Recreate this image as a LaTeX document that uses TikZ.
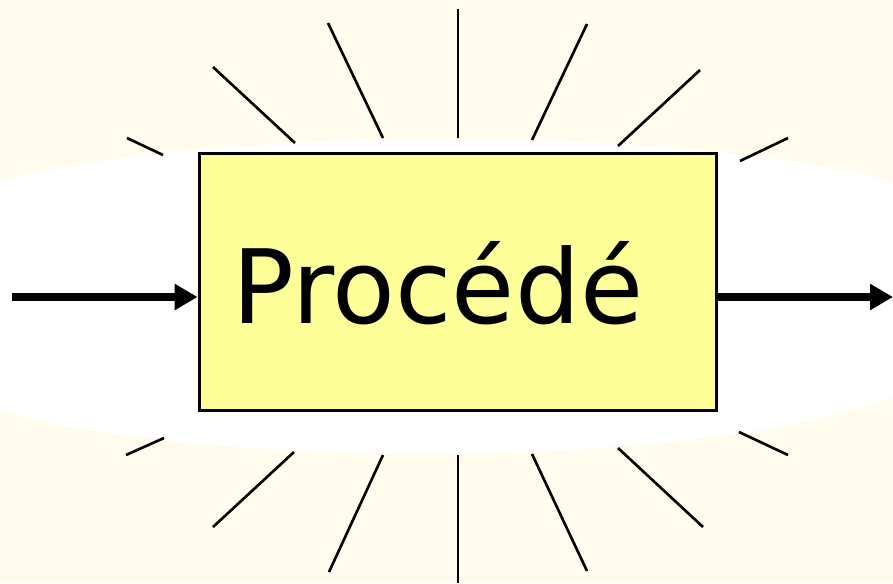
\documentclass[tikz,border=0pt]{standalone}
\usepackage{fontspec}
\setmainfont{DejaVu Sans}
\usetikzlibrary{arrows.meta}
\usetikzlibrary{positioning}
\definecolor{Cream}{HTML}{FFFCEE}
\definecolor{Pale Yellow}{HTML}{FFFF99}
\definecolor{Solid Black}{HTML}{000000}

\tikzset{
    procbox/.style={draw=Solid Black, fill=Pale Yellow, line width=1.7pt,
        minimum width=10.36cm, minimum height=5.16cm, inner sep=0pt},
    flow/.style={line width=4pt, -{Triangle[length=0.46cm, width=0.5cm]}},
    ray/.style={line width=1.5pt, Solid Black}
}

\begin{document}
\begin{tikzpicture}[x=0.02cm, y=-0.02cm]
    % Background with white band
    \useasboundingbox (0,0) rectangle (893,583);
    \fill[Cream] (0,0) rectangle (893,583);
    \fill[white] (0,182) .. controls (200,125) and (700,125) .. (893,183)
        -- (893,397) .. controls (700,470) and (200,470) .. (0,410) -- cycle;
    % Rays above and below
    \foreach \xa/\ya/\xb/\yb in {
        127/138/163/155, 213/67/295/143, 328/23/383/138, 458/9/458/138,
        587/24/532/140, 700/70/618/146, 788/138/740/161,
        126/455/164/438, 213/527/294/452, 329/572/383/455, 458/455/458/583,
        532/454/587/571, 618/448/703/527, 739/432/788/455
    } {
        \draw[ray] (\xa,\ya) -- (\xb,\yb);
    }
    % Process box
    \node[procbox] (proc) at (458,282) {};
    \node[anchor=base, font=\fontsize{58.4}{70}\selectfont] (procname) at (438,323) {Procédé};
    % Input and output
    \coordinate (entree) at (12,297);
    \coordinate (sortie) at (893,297);
    \draw[flow] (entree) -- (entree -| proc.west);
    \draw[flow] (sortie -| proc.east) -- (sortie);
\end{tikzpicture}
\end{document}
